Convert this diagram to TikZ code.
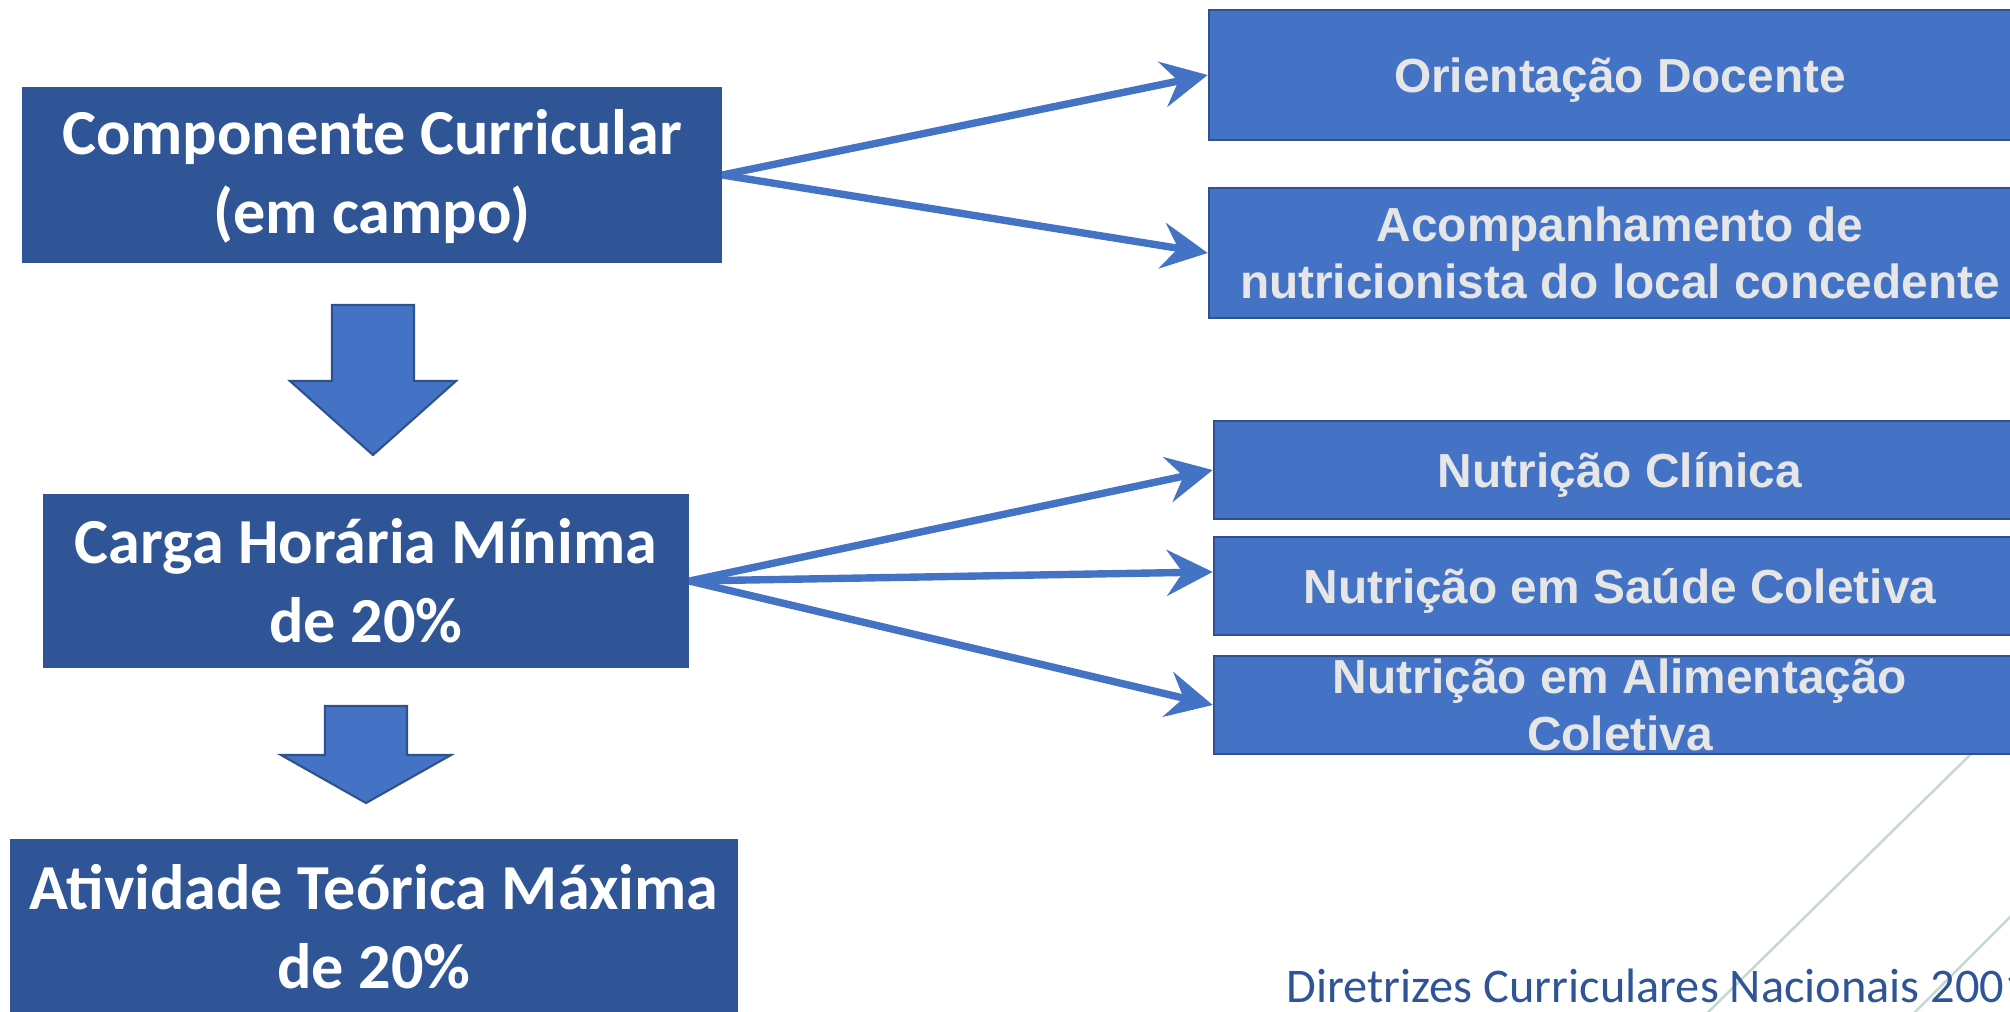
\documentclass[tikz,border=0pt]{standalone}
\usepackage{fontspec}
\setmainfont{Carlito}
\newfontfamily\arialfont{Liberation Sans}
\usetikzlibrary{arrows.meta}
\definecolor{darkblue}{HTML}{2F5597}
\definecolor{midblue}{HTML}{4472C4}
\definecolor{edgeblue}{HTML}{2F528F}
\definecolor{boxtext}{HTML}{E7E6E6}
\definecolor{stripe}{RGB}{195,218,208}

\begin{document}
\begin{tikzpicture}[x=0.01cm,y=-0.01cm]
\tikzstyle{dark} = [rectangle,fill=darkblue,text=white,font=\bfseries\fontsize{18.25}{22.5}\selectfont,align=center,inner sep=0pt]
\tikzstyle{light} = [rectangle,fill=midblue,draw=edgeblue,line width=0.6pt,text=boxtext,font=\arialfont\bfseries\fontsize{13.6}{16}\selectfont,align=center,inner sep=0pt]
\tikzstyle{oneline} = [text depth=0pt]
\tikzstyle{link} = [draw=midblue,line width=2.1pt,-{Stealth[length=13pt,width=13pt,inset=4.5pt]}]
\tikzstyle{block} = [fill=midblue,draw=edgeblue,line width=0.6pt,line join=miter]
\tikzstyle{stripe} = [draw=stripe,line width=0.7pt]

\pgfdeclarelayer{background}
\pgfsetlayers{background,main}

\useasboundingbox (0,0) rectangle (2010,1011);
\clip (0,0) rectangle (2010,1011);

\node[dark,minimum width=6.99cm,minimum height=1.75cm,text depth=2pt] (comp) at (372,175) {Componente Curricular\\(em campo)};
\node[dark,minimum width=6.45cm,minimum height=1.73cm] (carga) at (366,581) {Carga Horária Mínima\\de 20\%};
\node[dark,minimum width=7.28cm,minimum height=1.76cm] (ativ) at (374,927) {Atividade Teórica Máxima\\de 20\%};

\node[light,oneline,minimum width=8.22cm,minimum height=1.30cm] (orient) at (1620,75) {Orientação Docente};
\node[light,minimum width=8.22cm,minimum height=1.30cm] (acomp) at (1620,253) {Acompanhamento de\\nutricionista do local concedente};
\node[light,oneline,minimum width=8.12cm,minimum height=0.98cm] (clin) at (1620,470) {Nutrição Clínica};
\node[light,oneline,minimum width=8.12cm,minimum height=0.98cm] (saude) at (1620,586) {Nutrição em Saúde Coletiva};
\node[light,minimum width=8.12cm,minimum height=0.98cm] (alim) at (1620,705) {Nutrição em Alimentação\\Coletiva};

\draw[block] (332,305) -- (414,305) -- (414,381) -- (456,381) -- (373,455) -- (290,381) -- (332,381) -- cycle;
\draw[block] (325,706) -- (407,706) -- (407,755) -- (451,755) -- (366,803) -- (281,755) -- (325,755) -- cycle;

\draw[link] (comp.east) -- (orient.west);
\draw[link] (comp.east) -- (acomp.west);
\draw[link] (carga.east) -- (clin.west);
\draw[link] (carga.east) -- ([yshift=4pt]saude.west);
\draw[link] (carga.east) -- (alim.west);

\node[anchor=base west,text=darkblue,font=\fontsize{13.75}{16.5}\selectfont,inner sep=0pt] (dcn) at (1286,1002) {Diretrizes Curriculares Nacionais 2001};

\begin{pgfonlayer}{background}
\draw[stripe] (2030,696) -- (1700,1020);
\draw[stripe] (2030,897) -- (1905,1022);
\end{pgfonlayer}
\end{tikzpicture}
\end{document}
